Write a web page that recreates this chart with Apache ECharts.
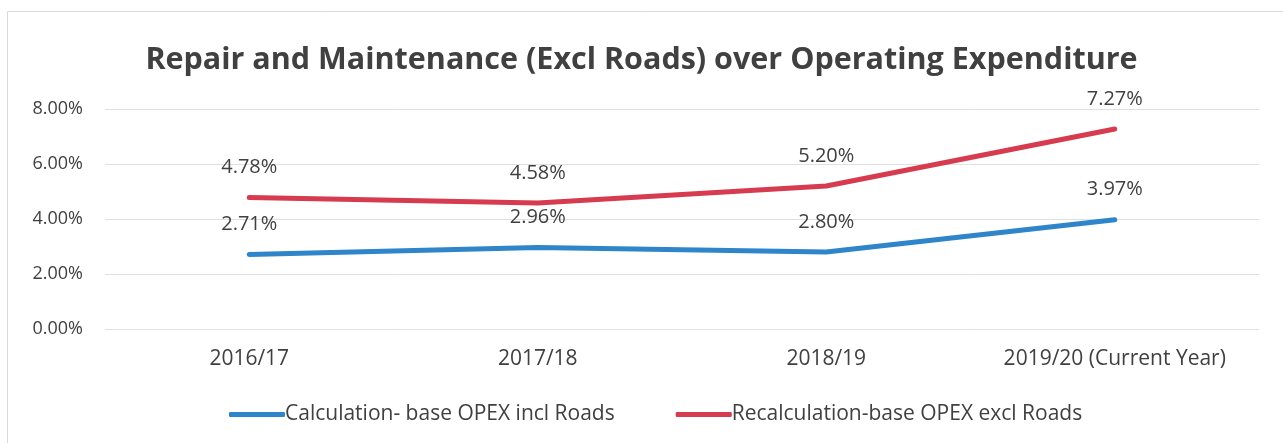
<!DOCTYPE html>
<html><head><meta charset="utf-8">
<script src="https://cdn.jsdelivr.net/npm/echarts@6/dist/echarts.min.js"></script>
<style>html,body{margin:0;padding:0;background:#fff}#c{width:1283px;height:443px}</style>
</head><body><div id="c"></div>
<script>
const categories = ['2016/17', '2017/18', '2018/19', '2019/20 (Current Year)'];
const calcInclRoads = [2.71, 2.96, 2.80, 3.97];
const recalcExclRoads = [4.78, 4.58, 5.20, 7.27];
const seriesNames = ['Calculation- base OPEX incl Roads', 'Recalculation-base OPEX excl Roads'];
const titleText = 'Repair and Maintenance (Excl Roads) over Operating Expenditure';

const font = '"Open Sans", "Noto Sans", sans-serif';
const chart = echarts.init(document.getElementById('c'));
const lbl = {show: true, position: 'top', distance: 20, fontSize: 20, color: '#404040', fontFamily: font,
  formatter: p => p.value.toFixed(2) + '%'};
chart.setOption({
  animation: false,
  graphic: [{type: 'rect', shape: {x: 7.5, y: 11.5, width: 1300, height: 460},
    style: {fill: 'none', stroke: '#d9d9d9', lineWidth: 1}}],
  title: {text: titleText, left: 'center', top: 40,
    textStyle: {fontSize: 30.5, fontWeight: 'bold', color: '#404040', fontFamily: font}},
  grid: {left: 105, right: 24, top: 109, bottom: 114},
  xAxis: {type: 'category', data: categories, boundaryGap: true,
    axisLine: {show: false}, axisTick: {show: false},
    axisLabel: {fontSize: 21, color: '#404040', fontFamily: font, margin: 20, interval: 0}},
  yAxis: {type: 'value', min: 0, max: 8, interval: 2,
    axisLabel: {fontSize: 18, color: '#404040', fontFamily: font, margin: 22,
      formatter: v => v.toFixed(2) + '%'},
    splitLine: {lineStyle: {color: '#e0e0e0', width: 1}}},
  legend: {bottom: 13, left: 224, itemWidth: 56, itemHeight: 5, itemGap: 61,
    icon: 'roundRect',
    textStyle: {fontSize: 21, color: '#404040', fontFamily: font, padding: [0, 0, 0, -5]},
    data: seriesNames},
  series: [
    {name: seriesNames[0], type: 'line', data: calcInclRoads, symbol: 'circle', symbolSize: 0.1,
      lineStyle: {width: 5, color: '#2f85c9', cap: 'round'}, itemStyle: {color: '#2f85c9'}, label: lbl},
    {name: seriesNames[1], type: 'line', data: recalcExclRoads, symbol: 'circle', symbolSize: 0.1,
      lineStyle: {width: 5, color: '#d63b4f', cap: 'round'}, itemStyle: {color: '#d63b4f'}, label: lbl}
  ]
});
</script></body></html>
